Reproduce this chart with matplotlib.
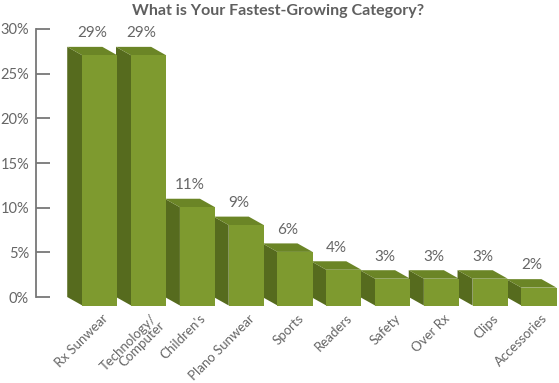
import numpy as np
import matplotlib
matplotlib.use("Agg")
from matplotlib import pyplot as plt
from matplotlib.patches import Polygon

plt.rcParams['font.family'] = ['Lato', 'DejaVu Sans']

categories = ['Rx Sunwear', 'Technology/\nComputer', "Children's", 'Plano Sunwear',
              'Sports', 'Readers', 'Safety', 'Over Rx', 'Clips', 'Accessories']
# bar heights as drawn in the picture, and the labels printed above them
heights = [28, 28, 11, 9, 6, 4, 3, 3, 3, 2]
value_labels = ['29%', '29%', '11%', '9%', '6%', '4%', '3%', '3%', '3%', '2%']
y_ticks = [0, 5, 10, 15, 20, 25, 30]

front_col = '#7e9a2f'
side_col = '#566b1e'
top_col = '#6b8526'
text_col = '#666666'

width = 0.72   # front face width (category units)
dx = 0.31      # depth to the left
dy = 0.95      # depth in % units

fig = plt.figure(figsize=(5.59, 3.83), dpi=100)
ax = fig.add_axes([0.0644, 0.2245, 0.9356, 0.6998])

x = np.arange(len(categories))
# front faces
ax.bar(x, heights, width=width, bottom=-dy, color=front_col, clip_on=False, zorder=3)

for xi, v, lab, cat in zip(x, heights, value_labels, categories):
    l, r = xi - width / 2, xi + width / 2
    side = Polygon([(l - dx, 0), (l, -dy), (l, v - dy), (l - dx, v)],
                   closed=True, facecolor=side_col, edgecolor='none', clip_on=False, zorder=2)
    top = Polygon([(l - dx, v), (r - dx, v), (r, v - dy), (l, v - dy)],
                  closed=True, facecolor=top_col, edgecolor='none', clip_on=False, zorder=2)
    ax.add_patch(side)
    ax.add_patch(top)
    ax.text(xi - dx / 2, v + 0.75, lab, ha='center', va='bottom',
            fontsize=11, color=text_col)
    ax.text(xi + 0.04, -dy - 0.75, cat,
            rotation=45, rotation_mode='anchor', ha='right', va='top',
            multialignment='right', fontsize=9.5, color=text_col, linespacing=0.85)

ax.set_xlim(-1.31, 9.41)
ax.set_ylim(0, 30)
ax.set_yticks(y_ticks)
ax.set_yticklabels([f'{t}%' for t in y_ticks])
ax.set_xticks([])
ax.tick_params(axis='y', direction='in', length=10, width=1.3, color='#777777',
               labelsize=10.5, labelcolor=text_col, pad=5)
for s in ['top', 'right', 'bottom']:
    ax.spines[s].set_visible(False)
ax.spines['left'].set_color('#777777')
ax.spines['left'].set_linewidth(1.3)

fig.text(0.497, 0.99, 'What is Your Fastest-Growing Category?', ha='center', va='top',
         fontsize=11.5, fontweight='bold', color='#5f5f5f')

fig.savefig('out.png', dpi=100)
